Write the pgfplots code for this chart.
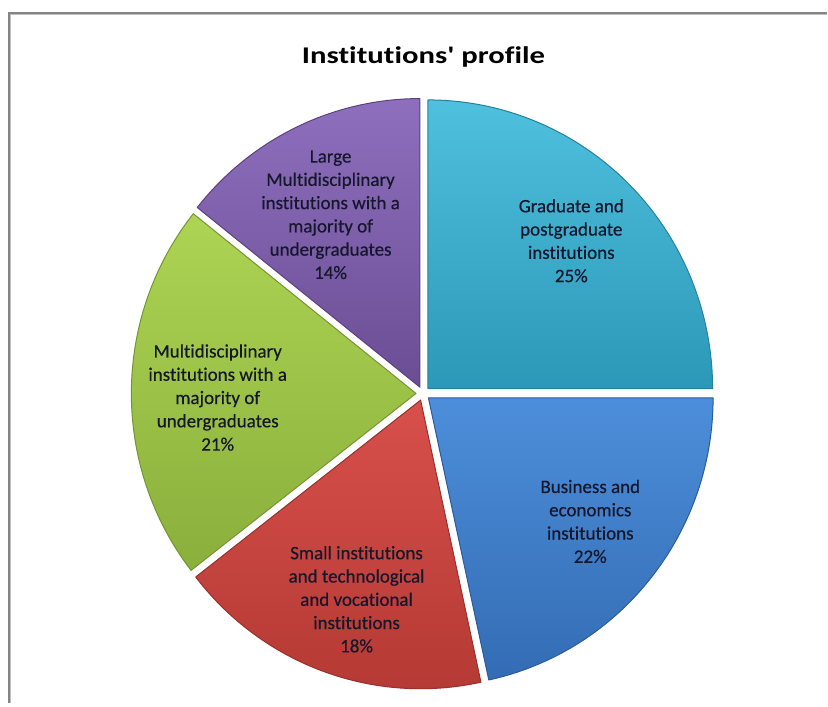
\documentclass[border=0pt]{standalone}
\usepackage{pgfplots}
\pgfplotsset{compat=1.18}
\usepackage{graphicx}
\usepackage{fontspec}
\setmainfont{Carlito}[Ligatures={NoCommon}]
\newfontfamily\labfam{Carlito}[FakeBold=0.45,Ligatures={NoCommon}]
\newfontfamily\titlefam{Carlito}[Ligatures={TeXOff,NoCommon}]
\definecolor{cyanT}{HTML}{4FC0DE}
\definecolor{cyanB}{HTML}{2C98B8}
\definecolor{blueT}{HTML}{4D8EDA}
\definecolor{blueB}{HTML}{336CB4}
\definecolor{redT}{HTML}{D8504B}
\definecolor{redB}{HTML}{B33833}
\definecolor{greenT}{HTML}{ADD453}
\definecolor{greenB}{HTML}{8AAF3C}
\definecolor{purpT}{HTML}{8E6FBE}
\definecolor{purpB}{HTML}{6B4D94}
\definecolor{labtext}{HTML}{15172B}
\definecolor{framegray}{HTML}{858585}
\newcommand\labfont{\labfam\fontsize{19}{23.3}\selectfont}
% #1 value (percent), #2 top colour, #3 bottom colour, #4,#5 label position, #6 label
\newcommand\pieslice[6]{%
  \pgfmathsetmacro\pieEnd{\pieStart-#1*3.6}%
  \pgfmathsetmacro\pieMid{(\pieStart+\pieEnd)/2}%
  \pgfmathsetmacro\pieOx{423.5+7*cos(\pieMid)}%
  \pgfmathsetmacro\pieOy{310+7*sin(\pieMid)}%
  \shade[top color=#2,bottom color=#3]
    (axis cs:\pieOx,\pieOy) -- ++(\pieStart:285pt and 289pt)
    arc[start angle=\pieStart,end angle=\pieEnd,x radius=285pt,y radius=289pt] -- cycle;
  \draw[#3!85!black,line width=1pt,line join=round]
    (axis cs:\pieOx,\pieOy) -- ++(\pieStart:285pt and 289pt)
    arc[start angle=\pieStart,end angle=\pieEnd,x radius=285pt,y radius=289pt] -- cycle;
  \node[align=center,text=labtext,font=\labfont] at (axis cs:#4,#5) {#6};
  \global\let\pieStart\pieEnd
}
\begin{document}
\begin{tikzpicture}
\begin{axis}[x=1pt,y=1pt,xmin=0,xmax=828,ymin=0,ymax=704,
  hide axis,clip=false,scale only axis]
\pgfplotsextra{%
  \path (axis cs:0,0) rectangle (axis cs:828,704);
  \draw[framegray,line width=2pt] (axis cs:9,0) -- (axis cs:9,691) -- (axis cs:828,691);
  \draw[black!25,line width=0.8pt] (axis cs:10.5,0) -- (axis cs:10.5,689.5) -- (axis cs:828,689.5);
  \gdef\pieStart{90}%
  \pieslice{25}{cyanT}{cyanB}{572}{463}{Graduate and\\postgraduate\\institutions\\25\%}
  \pieslice{21.6}{blueT}{blueB}{591}{182}{Business and\\economics\\institutions\\22\%}
  \pieslice{17.9}{redT}{redB}{357}{104}{Small institutions\\and technological\\and vocational\\institutions\\18\%}
  \pieslice{21.2}{greenT}{greenB}{218}{306}{Multidisciplinary\\institutions with a\\majority of\\undergraduates\\21\%}
  \pieslice{14.3}{purpT}{purpB}{331}{489}{Large\\Multidisciplinary\\institutions with a\\majority of\\undergraduates\\14\%}
  \node[anchor=base,text=black] at (axis cs:424,640.5)
    {\scalebox{1.28}[1]{\titlefam\bfseries\fontsize{24}{28}\selectfont Institutions' profile}};
}
\end{axis}
\end{tikzpicture}
\end{document}
